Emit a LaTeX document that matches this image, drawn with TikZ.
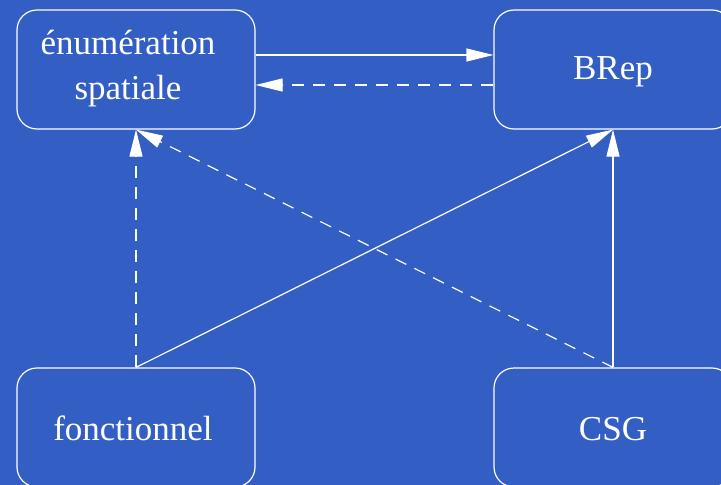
\documentclass[tikz,border=0pt]{standalone}
\usepackage{fontspec}
\setmainfont{Liberation Serif}
\usetikzlibrary{arrows.meta}
\definecolor{bgblue}{RGB}{51,94,196}
\tikzset{
  boxnode/.style={draw=white, line width=1.2pt, rectangle, rounded corners=20pt,
    minimum width=238pt, minimum height=119pt, inner sep=0pt},
  lbl/.style={text=white, font=\fontsize{35}{45}\selectfont, inner sep=0pt, anchor=base},
  conn/.style={draw=white, line width=1.2pt, -{Triangle[length=27pt,width=13pt]}},
  dconn/.style={conn, dash pattern=on 12pt off 9pt},
}
\begin{document}
\begin{tikzpicture}[x=1pt,y=-1pt]
\useasboundingbox (0,0) rectangle (721,485);
\clip (0,0) rectangle (721,485);
\fill[bgblue] (0,0) rectangle (721,485);

\node[boxnode] (enum) at (136,69.5) {};
\node[boxnode] (brep) at (613,69.5) {};
\node[boxnode] (fonc) at (136,427.5) {};
\node[boxnode] (csg)  at (613,427.5) {};

\node[lbl, align=center] (tenum) at (128,99) {énumération\\spatiale};
\node[lbl] (tbrep) at (613,79) {BRep};
\node[lbl] (tfonc) at (133,440) {fonctionnel};
\node[lbl] (tcsg)  at (613,440) {CSG};

\draw[conn]  ([yshift=14.5pt]enum.east) -- ([yshift=14.5pt]brep.west);
\draw[dconn] ([yshift=-15.5pt]brep.west) -- ([yshift=-15.5pt]enum.east);
\draw[dconn] (fonc.north) -- (enum.south);
\draw[conn]  (fonc.north) -- (brep.south);
\draw[conn]  (csg.north) -- (brep.south);
\draw[dconn] (csg.north) -- (enum.south);
\end{tikzpicture}
\end{document}
